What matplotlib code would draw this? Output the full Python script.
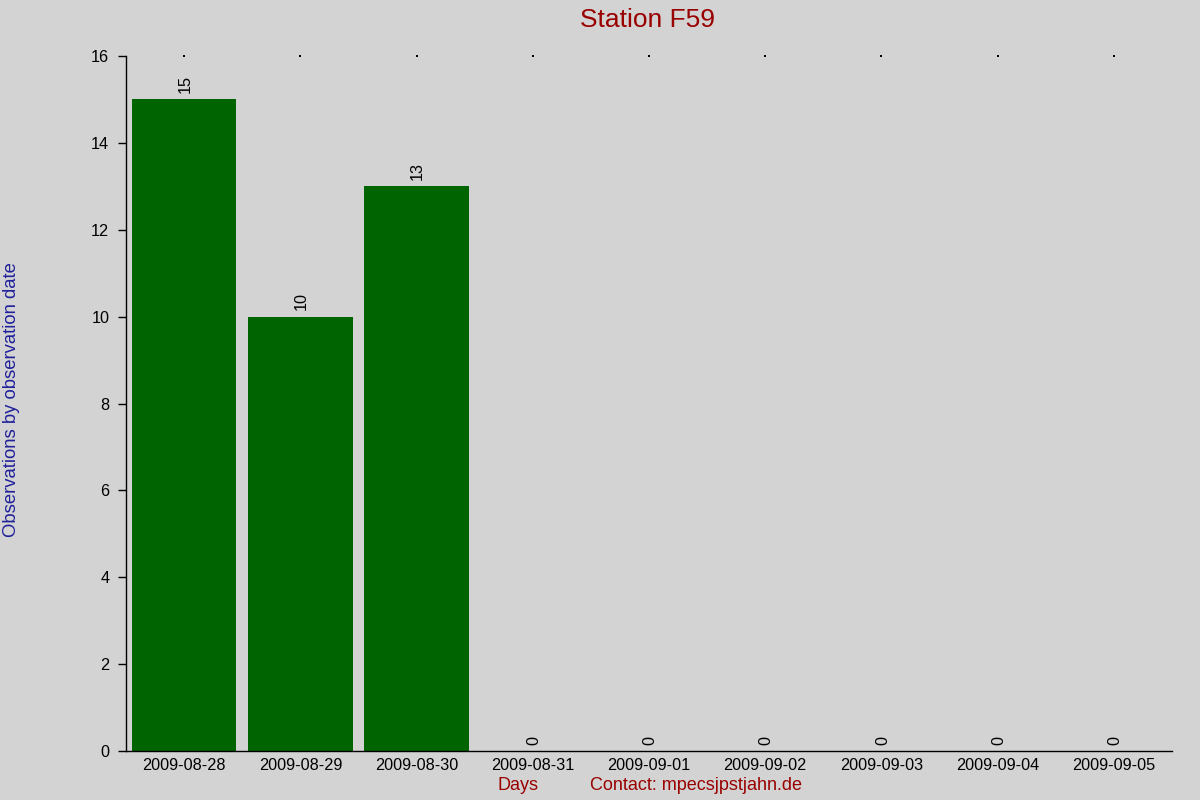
import matplotlib
matplotlib.use("Agg")
import matplotlib.pyplot as plt
import numpy as np

days = ["2009-08-28", "2009-08-29", "2009-08-30", "2009-08-31", "2009-09-01",
        "2009-09-02", "2009-09-03", "2009-09-04", "2009-09-05"]
counts = [15, 10, 13, 0, 0, 0, 0, 0, 0]
y_ticks = [0, 2, 4, 6, 8, 10, 12, 14, 16]

plt.rcParams['font.family'] = ['Liberation Sans', 'DejaVu Sans']
bg = "#d3d3d3"
fig = plt.figure(figsize=(12, 8), dpi=100, facecolor=bg)
ax = fig.add_axes([0.105, 0.06125, 0.8717, 0.86875], facecolor=bg)

x = np.arange(len(days))
ax.bar(x, counts, width=0.9, color="#006400")
for xi, v in zip(x, counts):
    ax.annotate(str(v), (xi, v), xytext=(0.8, 4.5), textcoords="offset points",
                rotation=90, ha="center", va="bottom", fontsize=11.7, color="black")

# small dots at top of each category
ax.scatter(x, [y_ticks[-1]] * len(x), s=0.6, color="black", marker="s",
           linewidths=0, clip_on=False)

ax.set_xlim(-0.5, len(days) - 0.5)
ax.set_ylim(0, 16)
ax.set_yticks(y_ticks)
ax.set_xticks(x)
ax.set_xticklabels(days)
ax.tick_params(axis="x", length=0, pad=5, labelsize=11.7)
ax.tick_params(axis="y", length=6, width=1, pad=6, labelsize=11.7)
for s in ["top", "right"]:
    ax.spines[s].set_visible(False)
ax.spines["left"].set_linewidth(1)
ax.spines["bottom"].set_linewidth(1)

fig.text(0.54, 0.975, "Station F59", ha="center", va="center", fontsize=19, color="#990000")
fig.text(0.01, 0.5, "Observations by observation date", rotation=90, ha="center", va="center",
         fontsize=13.3, color="#20209a")
fig.text(0.4317, 0.0175, "Days", ha="center", va="center", fontsize=13, color="#990000")
fig.text(0.58, 0.0175, "Contact: mpecsjpstjahn.de", ha="center", va="center", fontsize=13,
         color="#990000")

fig.savefig("out.png", dpi=100, facecolor=bg)
